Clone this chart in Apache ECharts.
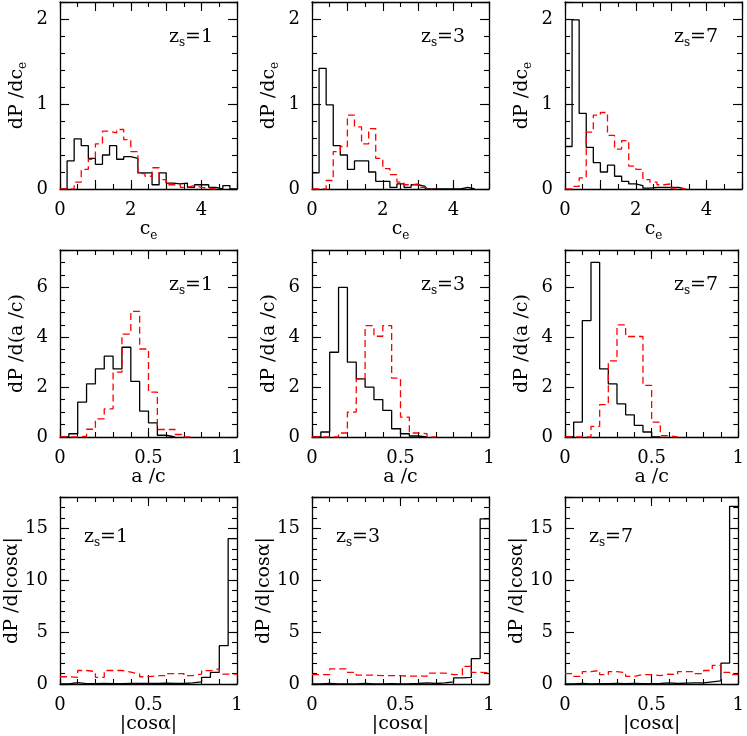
<!DOCTYPE html>
<html>
<head>
<meta charset="utf-8">
<script src="https://cdn.jsdelivr.net/npm/echarts@6/dist/echarts.min.js"></script>
<style>
  html, body { margin: 0; padding: 0; background: #fff; }
  #main { width: 747px; height: 736px; }
</style>
</head>
<body>
<div id="main"></div>
<script>
// bin widths of the three histogram rows
var ceBin = 0.2;
var acBin = 0.05;
var cosBin = 0.05;

// source redshifts, one per column
var zsValues = [1, 3, 7];

// row 1: dP/dc_e (solid black, dashed red)
var ceSolidZ1 = [0, 0.33, 0.59, 0.51, 0.36, 0.29, 0.40, 0.51, 0.35, 0.38, 0.36, 0.19, 0.19, 0.05, 0.19, 0.07, 0.06, 0.07, 0.02, 0.05, 0.05, 0.02, 0, 0.04, 0];
var ceDashedZ1 = [0, 0, 0.08, 0.23, 0.35, 0.53, 0.68, 0.66, 0.70, 0.58, 0.44, 0.18, 0.15, 0.25, 0.11, 0.05, 0.05, 0.02, 0.04, 0.02, 0.01, 0];
var ceSolidZ3 = [0.19, 1.42, 0.99, 0.51, 0.40, 0.23, 0.33, 0.33, 0.20, 0.09, 0.09, 0.02, 0.06, 0.02, 0.05, 0.03, 0, 0, 0, 0, 0, 0.02, 0];
var ceDashedZ3 = [0, 0, 0.10, 0.44, 0.50, 0.87, 0.73, 0.53, 0.71, 0.36, 0.24, 0.17, 0.08, 0.05, 0.06, 0.02, 0];
var ceSolidZ7 = [0.50, 1.99, 0.89, 0.49, 0.31, 0.20, 0.28, 0.15, 0.09, 0.06, 0.04, 0.01, 0.02, 0.02, 0.02, 0.02, 0];
var ceDashedZ7 = [0, 0.03, 0.13, 0.67, 0.87, 0.90, 0.63, 0.47, 0.57, 0.27, 0.23, 0.11, 0.08, 0.05, 0.06, 0.01, 0];

// row 2: dP/d(a/c)
var acSolidZ1 = [0, 0.13, 1.40, 2.13, 2.73, 3.24, 2.73, 3.60, 2.23, 1.04, 0.57, 0.07, 0];
var acDashedZ1 = [0, 0, 0.03, 0.31, 0.73, 1.13, 2.60, 4.13, 5.04, 3.53, 1.80, 0.30, 0.30, 0.10, 0];
var acSolidZ3 = [0, 0.20, 3.40, 6.00, 3.00, 2.33, 2.00, 1.50, 1.07, 0.33, 0.13, 0.04, 0];
var acDashedZ3 = [0, 0, 0, 0.16, 1.00, 2.33, 4.47, 4.04, 4.47, 2.36, 0.80, 0.16, 0.13, 0];
var acSolidZ7 = [0, 0.60, 4.67, 7.00, 2.73, 2.13, 1.33, 0.89, 0.47, 0.20, 0];
var acDashedZ7 = [0, 0, 0, 0.43, 1.30, 3.05, 4.50, 4.03, 4.03, 2.07, 0.60, 0.05, 0];

// row 3: dP/d|cos alpha|
var cosSolidZ1 = [0, 0.13, 0.03, 0.03, 0.05, 0.03, 0.03, 0.05, 0.05, 0.05, 0.05, 0.08, 0.05, 0.05, 0.10, 0.20, 0.64, 1.12, 3.69, 14.0];
var cosDashedZ1 = [0.70, 0.64, 1.30, 1.20, 0.64, 1.30, 1.30, 1.15, 0.96, 0.70, 0.80, 0.80, 1.00, 1.00, 0.80, 0.96, 1.28, 1.45, 0.96, 0.96];
var cosSolidZ3 = [0, 0.05, 0.02, 0.02, 0.02, 0.05, 0.02, 0.02, 0.03, 0.02, 0.03, 0.05, 0.10, 0.05, 0.10, 0.20, 0.58, 0.64, 2.44, 15.9];
var cosDashedZ3 = [0.90, 0.90, 1.45, 1.45, 1.12, 0.85, 0.85, 0.80, 0.80, 0.80, 0.75, 0.75, 0.75, 1.05, 1.05, 0.90, 0.90, 1.70, 1.12, 1.10];
var cosSolidZ7 = [0, 0.05, 0.02, 0.03, 0.03, 0.05, 0.03, 0.05, 0.03, 0.03, 0.05, 0.10, 0.05, 0.08, 0.10, 0.10, 0.20, 0.30, 2.00, 17.1];
var cosDashedZ7 = [1.00, 0.74, 1.20, 1.30, 0.90, 1.20, 1.10, 0.74, 0.90, 0.90, 0.80, 0.96, 0.90, 1.20, 1.20, 1.00, 1.30, 1.80, 1.12, 0.90];

var FONT = 'DejaVu Serif';
var subRich = {
  a: { fontFamily: FONT, fontSize: 19, lineHeight: 24, verticalAlign: 'middle', color: '#000' },
  s: { fontFamily: FONT, fontSize: 12, lineHeight: 12, verticalAlign: 'bottom', color: '#000' }
};

var rows = [
  { bin: ceBin, solid: [ceSolidZ1, ceSolidZ3, ceSolidZ7], dashed: [ceDashedZ1, ceDashedZ3, ceDashedZ7],
    xMax: 5, xMajor: 1, xMinor: 0.5, xLabelStep: 2, yMax: 2.2, yMajor: 1, yMinor: 0.2, yLabelStep: 1,
    xName: '{a|c}{s|e}', yName: '{a|dP /dc}{s|e}', tagLeft: false },
  { bin: acBin, solid: [acSolidZ1, acSolidZ3, acSolidZ7], dashed: [acDashedZ1, acDashedZ3, acDashedZ7],
    xMax: 1, xMajor: 0.5, xMinor: 0.1, xLabelStep: 0.5, yMax: 7.5, yMajor: 2, yMinor: 0.5, yLabelStep: 2,
    xName: '{a|a /c}', yName: '{a|dP /d(a /c)}', tagLeft: false },
  { bin: cosBin, solid: [cosSolidZ1, cosSolidZ3, cosSolidZ7], dashed: [cosDashedZ1, cosDashedZ3, cosDashedZ7],
    xMax: 1, xMajor: 0.5, xMinor: 0.1, xLabelStep: 0.5, yMax: 18, yMajor: 5, yMinor: 1, yLabelStep: 5,
    xName: '{a||cosα|}', yName: '{a|dP /d|cosα|}', tagLeft: true }
];

var gridLeft = [60, 312, 565];
var gridTop = [2, 250, 497];
var gridW = 177, gridH = 187;

function stepPoints(values, width) {
  var pts = values.map(function (v, i) { return [i * width, v]; });
  pts.push([values.length * width, values[values.length - 1]]);
  return pts;
}

function labelFormatter(step) {
  return function (v) {
    var k = v / step;
    if (Math.abs(k - Math.round(k)) > 1e-6) return '';
    return String(+v.toFixed(2));
  };
}

var grids = [], xAxes = [], yAxes = [], series = [], graphics = [];
var lineCol = '#000';

function axis(g, pos, max, interval, tickLen, labelled, step, name, isMajor) {
  var a = {
    gridIndex: g, type: 'value', position: pos, min: 0, max: max, interval: interval,
    axisLine: { show: isMajor, onZero: false, lineStyle: { color: lineCol, width: 1.3 } },
    axisTick: { show: true, inside: true, length: tickLen, lineStyle: { color: lineCol, width: 1.1 } },
    axisLabel: { show: labelled, color: '#000', fontFamily: FONT, fontSize: 18, margin: 12,
      formatter: labelFormatter(step), showMaxLabel: true },
    splitLine: { show: false }
  };
  if (name) {
    a.name = name;
    a.nameLocation = 'middle';
    a.nameTextStyle = { rich: subRich };
  }
  return a;
}

rows.forEach(function (r, ri) {
  zsValues.forEach(function (zs, ci) {
    var g = grids.length;
    grids.push({ left: gridLeft[ci], top: gridTop[ri], width: gridW, height: gridH });

    var xi = xAxes.length;
    var xb = axis(g, 'bottom', r.xMax, r.xMajor, 9, true, r.xLabelStep, r.xName, true);
    xb.nameGap = 28;
    xAxes.push(xb);
    xAxes.push(axis(g, 'bottom', r.xMax, r.xMinor, 5, false, 1, null, false));
    xAxes.push(axis(g, 'top', r.xMax, r.xMajor, 9, false, 1, null, true));
    xAxes.push(axis(g, 'top', r.xMax, r.xMinor, 5, false, 1, null, false));

    var yi = yAxes.length;
    var yl = axis(g, 'left', r.yMax, r.yMajor, 9, true, r.yLabelStep, r.yName, true);
    yl.nameGap = 31;
    yAxes.push(yl);
    yAxes.push(axis(g, 'left', r.yMax, r.yMinor, 5, false, 1, null, false));
    yAxes.push(axis(g, 'right', r.yMax, r.yMajor, 9, false, 1, null, true));
    yAxes.push(axis(g, 'right', r.yMax, r.yMinor, 5, false, 1, null, false));

    series.push({
      type: 'line', step: 'end', xAxisIndex: xi, yAxisIndex: yi,
      data: stepPoints(r.solid[ci], r.bin), showSymbol: false, symbol: 'none',
      lineStyle: { color: '#000', width: 1.3 }, silent: true
    });
    series.push({
      type: 'line', step: 'end', xAxisIndex: xi, yAxisIndex: yi,
      data: stepPoints(r.dashed[ci], r.bin), showSymbol: false, symbol: 'none',
      lineStyle: { color: '#ff0000', width: 1.3, type: [7, 4] }, silent: true
    });

    var tx = r.tagLeft ? gridLeft[ci] + 46 : gridLeft[ci] + 131;
    var ty = r.tagLeft ? gridTop[ri] + 40 : gridTop[ri] + 35;
    graphics.push({
      type: 'text', x: tx, y: ty, silent: true,
      style: { text: '{a|z}{s|s}{a|=' + zs + '}', rich: subRich,
        align: 'center', verticalAlign: 'middle', textAlign: 'center', textVerticalAlign: 'middle' }
    });
  });
});

var chart = echarts.init(document.getElementById('main'));
chart.setOption({
  animation: false,
  backgroundColor: '#fff',
  grid: grids,
  xAxis: xAxes,
  yAxis: yAxes,
  series: series,
  graphic: graphics
});
</script>
</body>
</html>
